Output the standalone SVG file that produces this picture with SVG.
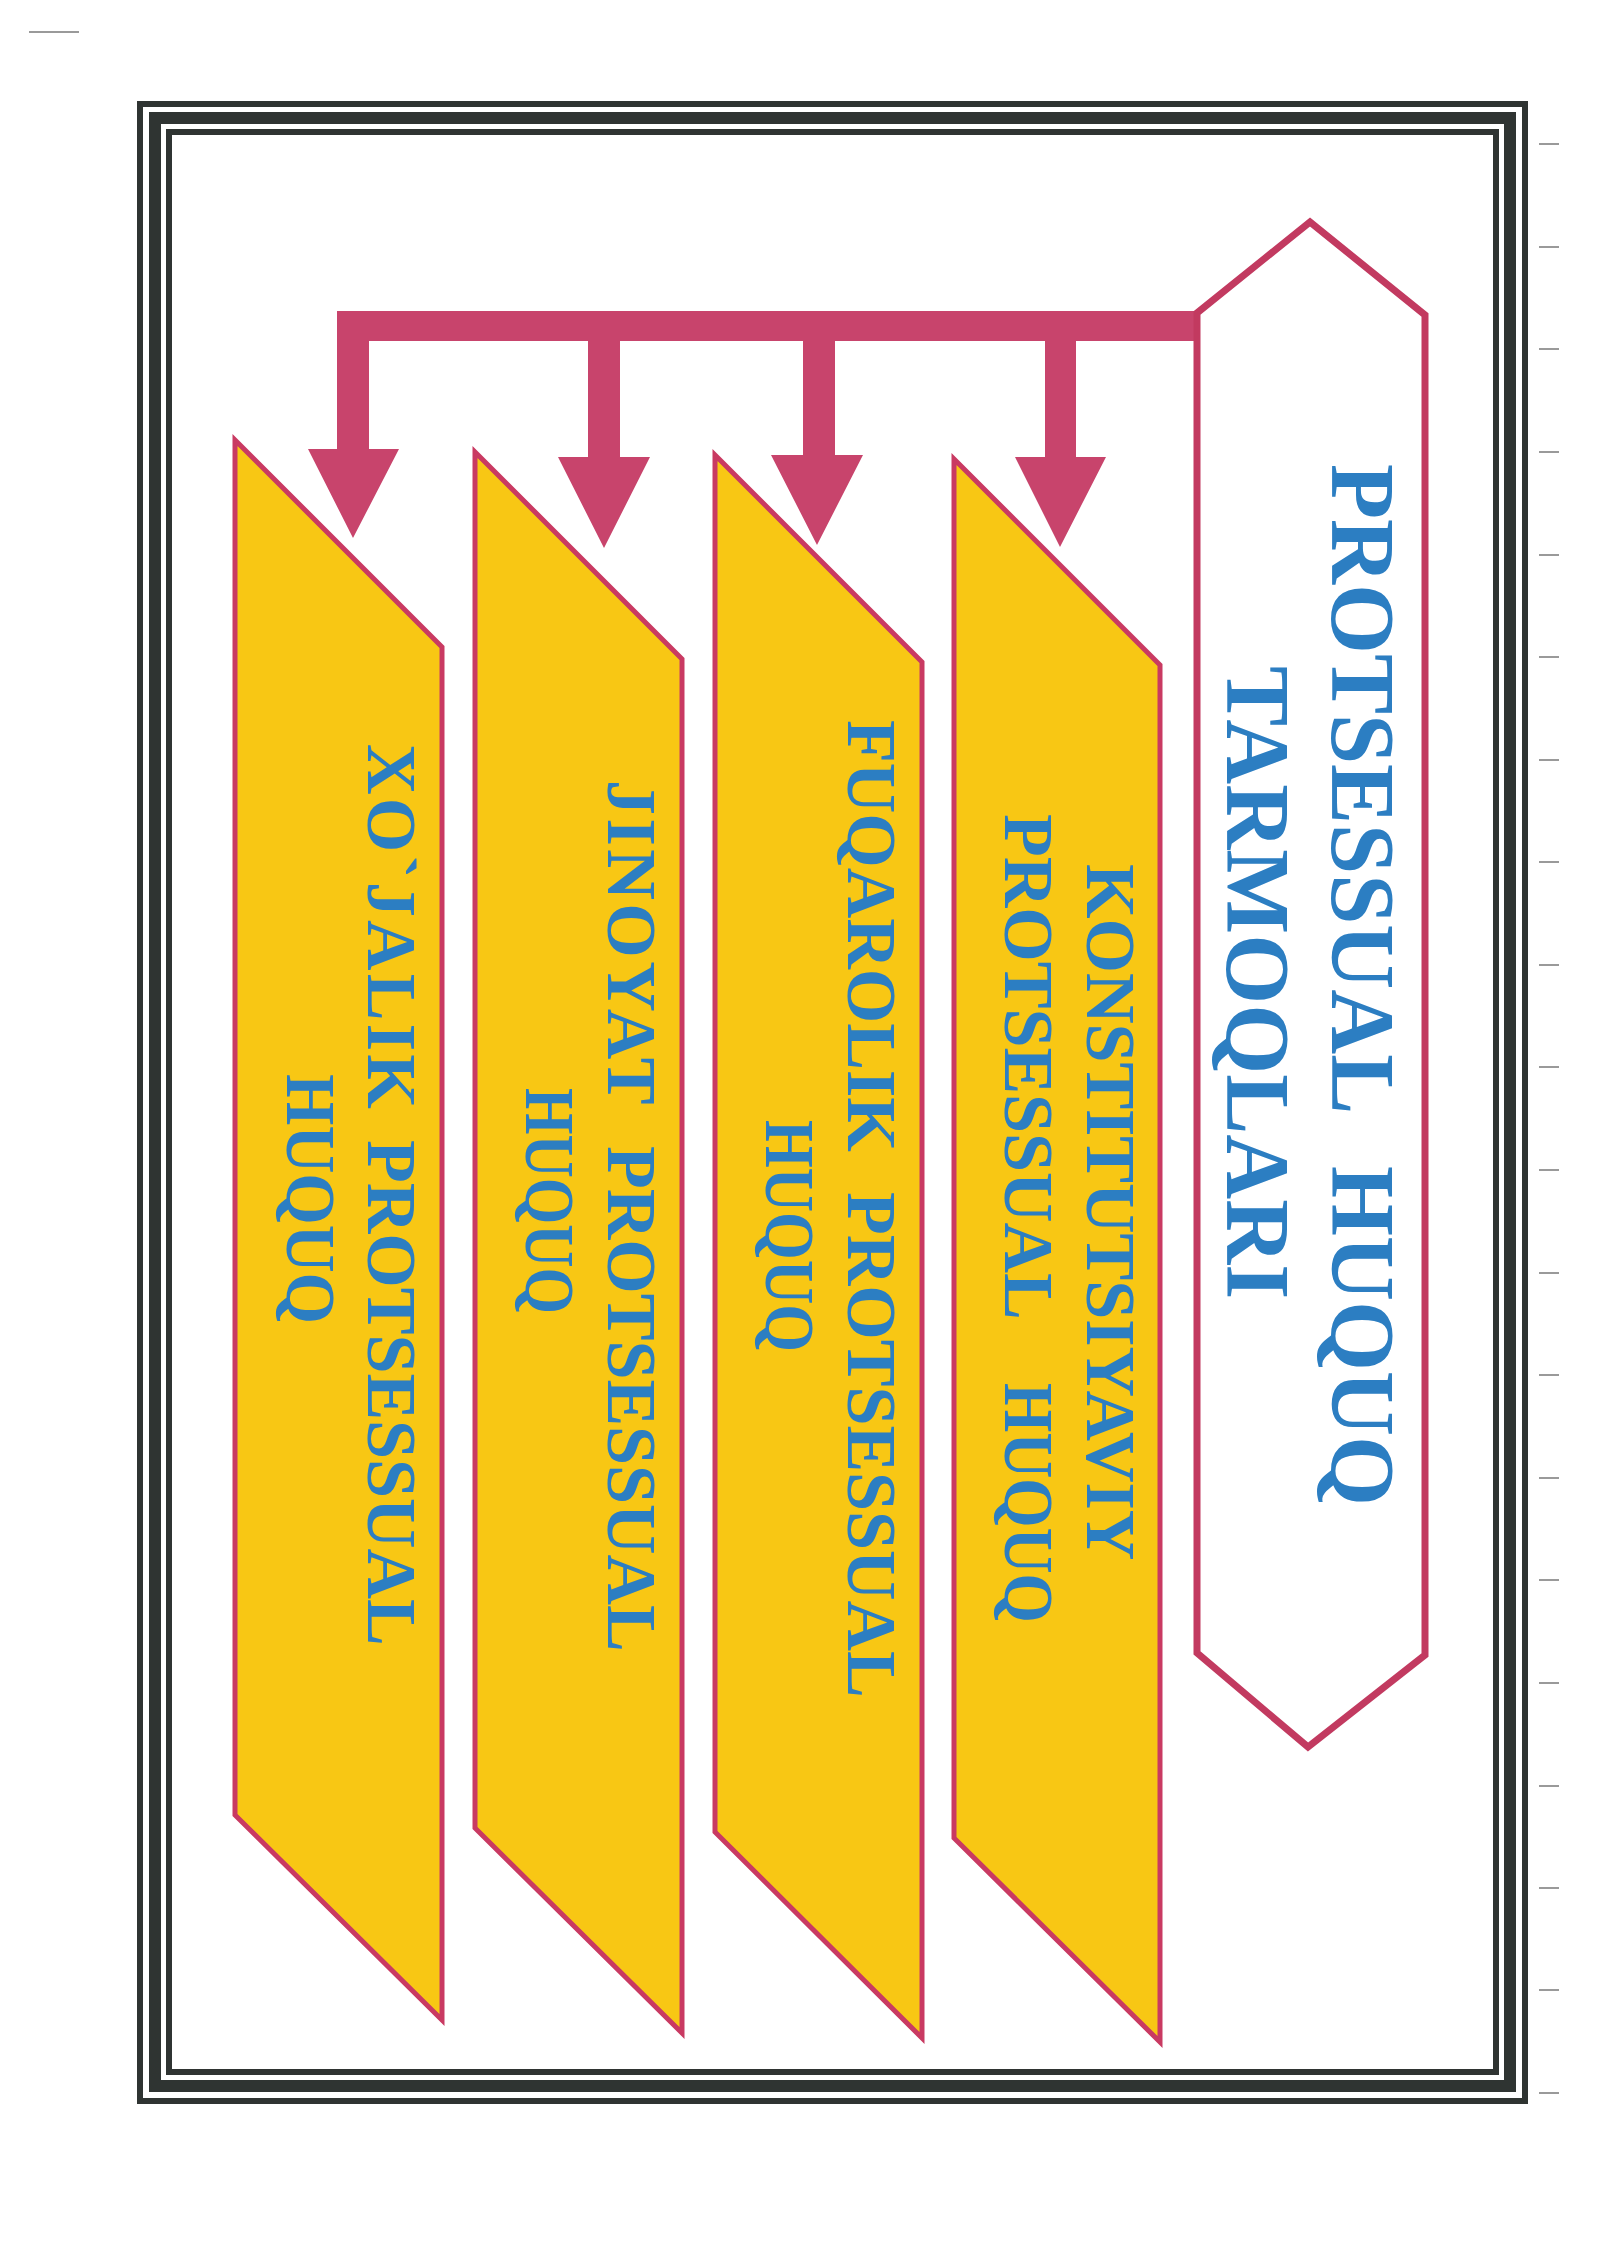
<svg xmlns="http://www.w3.org/2000/svg" width="1600" height="2262" viewBox="0 0 1600 2262">
<style>
.frame{fill:none;stroke:#2f3432}
.panel{fill:#f8c714;stroke:#c93a62;stroke-width:5;stroke-linejoin:miter}
.hex{fill:#ffffff;stroke:#c23a60;stroke-width:7;stroke-linejoin:miter}
.conn{fill:#c8446c}
.t{font-family:"Liberation Serif","Times New Roman",serif;font-weight:bold;fill:#2c7ec2}
.title{font-size:90px}
.lab{font-size:70px}
.scan{stroke:#9a9a9a;stroke-width:2;fill:none}
</style>
<rect x="0" y="0" width="1600" height="2262" fill="#ffffff"/>
<g id="scan-marks">
<line class="scan" x1="29" y1="32" x2="79" y2="32"/>
<path class="scan" d="M1539 144h20M1539 247h20M1539 349h20M1539 452h20M1539 555h20M1539 657h20M1539 760h20M1539 862h20M1539 965h20M1539 1067h20M1539 1170h20M1539 1273h20M1539 1375h20M1539 1478h20M1539 1580h20M1539 1683h20M1539 1786h20M1539 1888h20M1539 1990h20M1539 2093h20"/>
</g>
<g id="frame">
<rect class="frame" x="140" y="104" width="1385" height="1997" stroke-width="6"/>
<rect class="frame" x="155" y="118" width="1355" height="1968" stroke-width="12"/>
<rect class="frame" x="169" y="132" width="1327" height="1940" stroke-width="6"/>
</g>
<g id="connectors">
<rect class="conn" x="337" y="311" width="860" height="30"/>
<polygon class="conn" points="337,311 369,311 369,449 399,449 353,538 308,449 337,449"/>
<polygon class="conn" points="588,330 620,330 620,457 650,457 604,548 558,457 588,457"/>
<polygon class="conn" points="803,330 835,330 835,455 863,455 817,545 771,455 803,455"/>
<polygon class="conn" points="1045,330 1076,330 1076,457 1106,457 1060,547 1015,457 1045,457"/>
</g>
<g id="title">
<polygon class="hex" points="1310,222 1425,315 1425,1655 1308,1747 1197,1653 1197,313"/>
<text class="t title" transform="rotate(90)" y="-1332"><tspan x="464">PROTSESSUAL </tspan><tspan x="1166">HUQUQ</tspan></text>
<text class="t title" transform="rotate(90)" x="666" y="-1227">TARMOQLARI</text>
</g>
<g id="konstitutsiyaviy">
<polygon class="panel" points="954,459 1160,665 1160,2042 954,1838"/>
<text class="t lab" transform="rotate(90)" x="864" y="-1087">KONSTITUTSIYAVIY</text>
<text class="t lab" transform="rotate(90)" y="-1005"><tspan x="814">PROTSESSUAL </tspan><tspan x="1383" textLength="240" lengthAdjust="spacingAndGlyphs">HUQUQ</tspan></text>
</g>
<g id="fuqarolik">
<polygon class="panel" points="715,455 922,662 922,2038 715,1832"/>
<text class="t lab" transform="rotate(90)" y="-848"><tspan x="720">FUQAROLIK </tspan><tspan x="1192">PROTSESSUAL</tspan></text>
<text class="t lab" transform="rotate(90)" x="1120" y="-766" textLength="232" lengthAdjust="spacingAndGlyphs">HUQUQ</text>
</g>
<g id="jinoyat">
<polygon class="panel" points="475,452 682,659 682,2033 475,1828"/>
<text class="t lab" transform="rotate(90)" y="-608"><tspan x="780" letter-spacing="3.5">JINOYAT </tspan><tspan x="1146">PROTSESSUAL</tspan></text>
<text class="t lab" transform="rotate(90)" x="1088" y="-526" textLength="226" lengthAdjust="spacingAndGlyphs">HUQUQ</text>
</g>
<g id="xojalik">
<polygon class="panel" points="235,440 442,647 442,2020 235,1815"/>
<text class="t lab" transform="rotate(90)" y="-368"><tspan x="744" letter-spacing="3.2">XO`JALIK </tspan><tspan x="1140">PROTSESSUAL</tspan></text>
<text class="t lab" transform="rotate(90)" x="1074" y="-287" textLength="250" lengthAdjust="spacingAndGlyphs">HUQUQ</text>
</g>
</svg>
